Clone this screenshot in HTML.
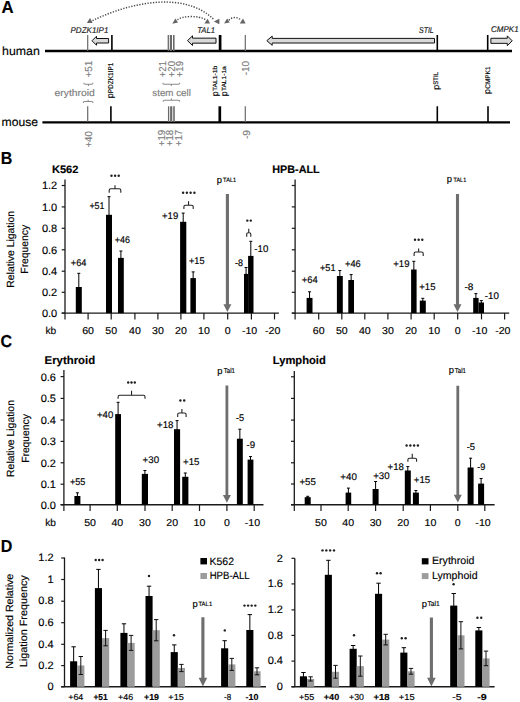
<!DOCTYPE html>
<html><head><meta charset="utf-8"><style>
html,body{margin:0;padding:0;background:#fff;}
body{width:520px;height:702px;overflow:hidden;}
svg{display:block;font-family:"Liberation Sans",sans-serif;text-rendering:geometricPrecision;}
</style></head><body>
<svg width="520" height="702" viewBox="0 0 520 702">
<rect width="520" height="702" fill="#fff"/>
<text transform="translate(1.6,13.4) scale(0.970,1)" font-size="17.3" font-weight="bold" stroke="#000" stroke-width="0.15">A</text>
<text transform="translate(2.1,54.7) scale(1.036,1)" font-size="11.9" stroke="#000" stroke-width="0.15">human</text>
<text transform="translate(1.6,125.9) scale(1.022,1)" font-size="11.9" stroke="#000" stroke-width="0.15">mouse</text>
<line x1="45" y1="51.05" x2="512" y2="51.05" stroke="#000" stroke-width="2.5"/>
<line x1="42.4" y1="122.45" x2="510" y2="122.45" stroke="#000" stroke-width="2.2"/>
<line x1="87.7" y1="35" x2="87.7" y2="51" stroke="#6a6a6a" stroke-width="1.2"/>
<line x1="111.9" y1="35" x2="111.9" y2="51" stroke="#000" stroke-width="1.6"/>
<line x1="168.3" y1="35" x2="168.3" y2="51" stroke="#6a6a6a" stroke-width="1.3"/>
<line x1="170.9" y1="35" x2="170.9" y2="51" stroke="#6a6a6a" stroke-width="2.2"/>
<line x1="173.8" y1="35" x2="173.8" y2="51" stroke="#6a6a6a" stroke-width="1.6"/>
<line x1="220.1" y1="35" x2="220.1" y2="51" stroke="#000" stroke-width="2.7"/>
<line x1="245.3" y1="35" x2="245.3" y2="51" stroke="#6a6a6a" stroke-width="1.2"/>
<line x1="437.3" y1="35" x2="437.3" y2="51" stroke="#000" stroke-width="1.6"/>
<line x1="487.7" y1="35" x2="487.7" y2="51" stroke="#000" stroke-width="1.6"/>
<line x1="87.7" y1="106.3" x2="87.7" y2="122" stroke="#6a6a6a" stroke-width="1.2"/>
<line x1="110.9" y1="106.3" x2="110.9" y2="122" stroke="#000" stroke-width="1.6"/>
<line x1="168.6" y1="106.3" x2="168.6" y2="122" stroke="#6a6a6a" stroke-width="1.3"/>
<line x1="171.2" y1="106.3" x2="171.2" y2="122" stroke="#6a6a6a" stroke-width="2.2"/>
<line x1="174" y1="106.3" x2="174" y2="122" stroke="#6a6a6a" stroke-width="1.6"/>
<line x1="219.8" y1="106.3" x2="219.8" y2="122" stroke="#000" stroke-width="2.7"/>
<line x1="245.3" y1="106.3" x2="245.3" y2="122" stroke="#6a6a6a" stroke-width="1.2"/>
<line x1="437.3" y1="106.3" x2="437.3" y2="122" stroke="#000" stroke-width="1.6"/>
<line x1="488" y1="106.3" x2="488" y2="122" stroke="#000" stroke-width="1.6"/>
<path d="M92 40.75 L96.5 36.25 L96.5 38.5 L108.6 38.5 L108.6 43 L96.5 43 L96.5 45.25 Z" fill="#d9d9d9" stroke="#111" stroke-width="1"/>
<path d="M187.5 40.65 L192.5 35.8 L192.5 38.15 L216 38.15 L216 43.15 L192.5 43.15 L192.5 45.5 Z" fill="#d9d9d9" stroke="#111" stroke-width="1"/>
<path d="M266.8 40.7 L272.2 36.1 L272.2 38.4 L434.5 38.4 L434.5 43 L272.2 43 L272.2 45.3 Z" fill="#d9d9d9" stroke="#111" stroke-width="1"/>
<path d="M512.2 40.8 L507.3 35.9 L507.3 38.25 L490.9 38.25 L490.9 43.35 L507.3 43.35 L507.3 45.7 Z" fill="#d9d9d9" stroke="#111" stroke-width="1"/>
<text transform="translate(70.5,32.5) scale(0.958,1)" font-size="8.4" font-style="italic" fill="#222" stroke="#222" stroke-width="0.16">PDZK1IP1</text>
<text transform="translate(197.2,32.5) scale(0.915,1)" font-size="8.4" font-style="italic" fill="#222" stroke="#222" stroke-width="0.16">TAL1</text>
<text transform="translate(419,32.8) scale(0.834,1)" font-size="8.4" font-style="italic" fill="#222" stroke="#222" stroke-width="0.18">STIL</text>
<text transform="translate(491,32.3) scale(0.957,1)" font-size="8.4" font-style="italic" fill="#222" stroke="#222" stroke-width="0.16">CMPK1</text>
<path d="M92.5 20.6 C132.5 1.3, 185.3 -8.6, 214 19.6" stroke="#4a4a4a" stroke-width="1.45" fill="none" stroke-dasharray="1.3 1.45"/>
<path d="M177.5 19.8 C181 16, 199 15, 205.5 19.8" stroke="#4a4a4a" stroke-width="1.45" fill="none" stroke-dasharray="1.3 1.45"/>
<path d="M229 20.4 C231 16.8, 238 16.5, 240.8 20" stroke="#4a4a4a" stroke-width="1.45" fill="none" stroke-dasharray="1.3 1.45"/>
<path d="M86.9 23 L92.7 23 L90 18.1 Z" fill="#646464"/>
<path d="M213.9 21.5 L219.4 18.7 L219.4 24.3 Z" fill="#646464"/>
<path d="M172.3 23.8 L178 22.6 L175.4 18.4 Z" fill="#646464"/>
<path d="M204.4 23.6 L210 23.6 L207.6 18.7 Z" fill="#646464"/>
<path d="M224.1 23.6 L229.6 22.4 L227.1 18.4 Z" fill="#646464"/>
<path d="M239.8 23.5 L245.6 23.5 L243 18.6 Z" fill="#646464"/>
<text transform="translate(91.5,77.6) rotate(-90) scale(0.977,1)" font-size="10.2" fill="#808080" stroke="#808080" stroke-width="0.15">+51</text>
<text transform="translate(166,77.2) rotate(-90) scale(0.936,1)" font-size="10.2" fill="#808080" stroke="#808080" stroke-width="0.16">+21</text>
<text transform="translate(174.5,77.2) rotate(-90) scale(0.936,1)" font-size="10.2" fill="#808080" stroke="#808080" stroke-width="0.16">+20</text>
<text transform="translate(183,77.2) rotate(-90) scale(0.936,1)" font-size="10.2" fill="#808080" stroke="#808080" stroke-width="0.16">+19</text>
<text transform="translate(248.7,75.3) rotate(-90) scale(0.977,1)" font-size="10.2" fill="#808080" stroke="#808080" stroke-width="0.15">-10</text>
<text transform="translate(92,147.6) rotate(-90) scale(0.954,1)" font-size="10.2" fill="#808080" stroke="#808080" stroke-width="0.16">+40</text>
<text transform="translate(164.5,146.3) rotate(-90) scale(0.954,1)" font-size="10.2" fill="#808080" stroke="#808080" stroke-width="0.16">+19</text>
<text transform="translate(173.3,146.3) rotate(-90) scale(0.954,1)" font-size="10.2" fill="#808080" stroke="#808080" stroke-width="0.16">+18</text>
<text transform="translate(182.1,146.3) rotate(-90) scale(0.954,1)" font-size="10.2" fill="#808080" stroke="#808080" stroke-width="0.16">+17</text>
<text transform="translate(249.6,139) rotate(-90) scale(0.992,1)" font-size="10.2" fill="#808080" stroke="#808080" stroke-width="0.15">-9</text>
<text transform="translate(54.5,95.5) scale(1.093,1)" font-size="9.5" fill="#808080" stroke="#808080" stroke-width="0.15">erythroid</text>
<text transform="translate(152.3,95.6) scale(1.030,1)" font-size="9.5" fill="#808080" stroke="#808080" stroke-width="0.15">stem cell</text>
<path d="M83.8 82.7 Q83.8 84.2 85.1 84.2 L91.7 84.2 Q93 84.2 93 82.7 M88.4 84.2 L88.4 86" fill="none" stroke="#8a8a8a" stroke-width="1.05"/>
<path d="M83.3 103 Q83.3 101.5 84.6 101.5 L91.7 101.5 Q93 101.5 93 103 M88.15 101.5 L88.15 99.7" fill="none" stroke="#8a8a8a" stroke-width="1.05"/>
<path d="M162.8 82.7 Q162.8 84.2 164.1 84.2 L178.5 84.2 Q179.8 84.2 179.8 82.7 M171.3 84.2 L171.3 86" fill="none" stroke="#8a8a8a" stroke-width="1.05"/>
<path d="M163.1 101.8 Q163.1 100.3 164.4 100.3 L178.5 100.3 Q179.8 100.3 179.8 101.8 M171.45 100.3 L171.45 98.5" fill="none" stroke="#8a8a8a" stroke-width="1.05"/>
<text transform="translate(112.7,98.3) rotate(-90)" font-size="8.8" stroke="#000" stroke-width="0.15">p</text>
<text transform="translate(112.5,93.21) rotate(-90) scale(0.922,1)" font-size="7" stroke="#000" stroke-width="0.16">PDZK1IP1</text>
<text transform="translate(218,96.2) rotate(-90)" font-size="8.8" stroke="#000" stroke-width="0.15">p</text>
<text transform="translate(217.2,91.11) rotate(-90) scale(1.121,1)" font-size="6" stroke="#000" stroke-width="0.15">TAL1-1b</text>
<text transform="translate(226.6,96.2) rotate(-90)" font-size="8.8" stroke="#000" stroke-width="0.15">p</text>
<text transform="translate(225.8,91.11) rotate(-90) scale(1.104,1)" font-size="6" stroke="#000" stroke-width="0.15">TAL1-1a</text>
<text transform="translate(438.7,89.8) rotate(-90)" font-size="8.8" stroke="#000" stroke-width="0.15">p</text>
<text transform="translate(438.1,84.71) rotate(-90) scale(0.912,1)" font-size="6.6" stroke="#000" stroke-width="0.16">STIL</text>
<text transform="translate(490,93.9) rotate(-90)" font-size="8.8" stroke="#000" stroke-width="0.15">p</text>
<text transform="translate(489.5,88.81) rotate(-90) scale(0.971,1)" font-size="6.7" stroke="#000" stroke-width="0.15">CMPK1</text>
<text transform="translate(0.7,164) scale(0.930,1)" font-size="17.3" font-weight="bold" stroke="#000" stroke-width="0.16">B</text>
<text transform="translate(51.9,173.1) scale(1.030,1)" font-size="10.8" font-weight="bold" stroke="#000" stroke-width="0.15">K562</text>
<line x1="65" y1="179.5" x2="65" y2="313.1" stroke="#1a1a1a" stroke-width="1.3"/>
<line x1="61.7" y1="185.5" x2="65" y2="185.5" stroke="#1a1a1a" stroke-width="1.2"/>
<text transform="translate(57.2,189.4) scale(1.020,1)" font-size="10.8" text-anchor="end" stroke="#000" stroke-width="0.15">1.2</text>
<line x1="61.7" y1="206.9" x2="65" y2="206.9" stroke="#1a1a1a" stroke-width="1.2"/>
<text transform="translate(57.2,210.8) scale(1.020,1)" font-size="10.8" text-anchor="end" stroke="#000" stroke-width="0.15">1.0</text>
<line x1="61.7" y1="228.3" x2="65" y2="228.3" stroke="#1a1a1a" stroke-width="1.2"/>
<text transform="translate(57.2,232.2) scale(1.020,1)" font-size="10.8" text-anchor="end" stroke="#000" stroke-width="0.15">0.8</text>
<line x1="61.7" y1="249.8" x2="65" y2="249.8" stroke="#1a1a1a" stroke-width="1.2"/>
<text transform="translate(57.2,253.7) scale(1.020,1)" font-size="10.8" text-anchor="end" stroke="#000" stroke-width="0.15">0.6</text>
<line x1="61.7" y1="271.2" x2="65" y2="271.2" stroke="#1a1a1a" stroke-width="1.2"/>
<text transform="translate(57.2,275.1) scale(1.020,1)" font-size="10.8" text-anchor="end" stroke="#000" stroke-width="0.15">0.4</text>
<line x1="61.7" y1="292.3" x2="65" y2="292.3" stroke="#1a1a1a" stroke-width="1.2"/>
<text transform="translate(57.2,296.2) scale(1.020,1)" font-size="10.8" text-anchor="end" stroke="#000" stroke-width="0.15">0.2</text>
<line x1="61.7" y1="313.1" x2="65" y2="313.1" stroke="#1a1a1a" stroke-width="1.2"/>
<text transform="translate(57.2,317) scale(1.020,1)" font-size="10.8" text-anchor="end" stroke="#000" stroke-width="0.15">0.0</text>
<line x1="61.7" y1="313.1" x2="278.9" y2="313.1" stroke="#1a1a1a" stroke-width="1.4"/>
<line x1="65" y1="313.1" x2="65" y2="319.4" stroke="#1a1a1a" stroke-width="1.2"/>
<line x1="88.1" y1="313.1" x2="88.1" y2="319.4" stroke="#1a1a1a" stroke-width="1.2"/>
<line x1="111.2" y1="313.1" x2="111.2" y2="319.4" stroke="#1a1a1a" stroke-width="1.2"/>
<line x1="134.9" y1="313.1" x2="134.9" y2="319.4" stroke="#1a1a1a" stroke-width="1.2"/>
<line x1="157.9" y1="313.1" x2="157.9" y2="319.4" stroke="#1a1a1a" stroke-width="1.2"/>
<line x1="180.9" y1="313.1" x2="180.9" y2="319.4" stroke="#1a1a1a" stroke-width="1.2"/>
<line x1="203.9" y1="313.1" x2="203.9" y2="319.4" stroke="#1a1a1a" stroke-width="1.2"/>
<line x1="227.7" y1="313.1" x2="227.7" y2="319.4" stroke="#1a1a1a" stroke-width="1.2"/>
<line x1="251.4" y1="313.1" x2="251.4" y2="319.4" stroke="#1a1a1a" stroke-width="1.2"/>
<line x1="274.5" y1="313.1" x2="274.5" y2="319.4" stroke="#1a1a1a" stroke-width="1.2"/>
<text transform="translate(45.4,333.8)" font-size="10.2" stroke="#000" stroke-width="0.15">kb</text>
<text transform="translate(88.1,333.8) scale(1.060,1)" font-size="10" text-anchor="middle" stroke="#000" stroke-width="0.15">60</text>
<text transform="translate(111.2,333.8) scale(1.060,1)" font-size="10" text-anchor="middle" stroke="#000" stroke-width="0.15">50</text>
<text transform="translate(134.9,333.8) scale(1.060,1)" font-size="10" text-anchor="middle" stroke="#000" stroke-width="0.15">40</text>
<text transform="translate(157.9,333.8) scale(1.060,1)" font-size="10" text-anchor="middle" stroke="#000" stroke-width="0.15">30</text>
<text transform="translate(180.9,333.8) scale(1.060,1)" font-size="10" text-anchor="middle" stroke="#000" stroke-width="0.15">20</text>
<text transform="translate(203.9,333.8) scale(1.060,1)" font-size="10" text-anchor="middle" stroke="#000" stroke-width="0.15">10</text>
<text transform="translate(227.7,333.8) scale(1.060,1)" font-size="10" text-anchor="middle" stroke="#000" stroke-width="0.15">0</text>
<text transform="translate(249.6,333.8) scale(1.060,1)" font-size="10" text-anchor="middle" stroke="#000" stroke-width="0.15">-10</text>
<text transform="translate(272.7,333.8) scale(1.060,1)" font-size="10" text-anchor="middle" stroke="#000" stroke-width="0.15">-20</text>
<text transform="translate(14.3,249.3) rotate(-90)" font-size="10.4" text-anchor="middle" stroke="#000" stroke-width="0.15">Relative Ligation</text>
<text transform="translate(27.8,249.3) rotate(-90) scale(0.991,1)" font-size="10.4" text-anchor="middle" stroke="#000" stroke-width="0.15">Frequency</text>
<rect x="75.8" y="287" width="6" height="26.1" fill="#000"/>
<line x1="78.8" y1="273.3" x2="78.8" y2="300.7" stroke="#000" stroke-width="1"/>
<line x1="77.3" y1="273.3" x2="80.3" y2="273.3" stroke="#000" stroke-width="1"/>
<line x1="77.3" y1="300.7" x2="80.3" y2="300.7" stroke="#000" stroke-width="1"/>
<rect x="106" y="214.8" width="6" height="98.3" fill="#000"/>
<line x1="109" y1="196.7" x2="109" y2="232.9" stroke="#000" stroke-width="1"/>
<line x1="107.5" y1="196.7" x2="110.5" y2="196.7" stroke="#000" stroke-width="1"/>
<line x1="107.5" y1="232.9" x2="110.5" y2="232.9" stroke="#000" stroke-width="1"/>
<rect x="118" y="257.9" width="5.8" height="55.2" fill="#000"/>
<line x1="120.9" y1="251" x2="120.9" y2="264.8" stroke="#000" stroke-width="1"/>
<line x1="119.4" y1="251" x2="122.4" y2="251" stroke="#000" stroke-width="1"/>
<line x1="119.4" y1="264.8" x2="122.4" y2="264.8" stroke="#000" stroke-width="1"/>
<rect x="180.1" y="221.8" width="6.2" height="91.3" fill="#000"/>
<line x1="183.2" y1="213.1" x2="183.2" y2="230.5" stroke="#000" stroke-width="1"/>
<line x1="181.7" y1="213.1" x2="184.7" y2="213.1" stroke="#000" stroke-width="1"/>
<line x1="181.7" y1="230.5" x2="184.7" y2="230.5" stroke="#000" stroke-width="1"/>
<rect x="190.4" y="278.1" width="5.5" height="35" fill="#000"/>
<line x1="193.15" y1="271.9" x2="193.15" y2="284.3" stroke="#000" stroke-width="1"/>
<line x1="191.65" y1="271.9" x2="194.65" y2="271.9" stroke="#000" stroke-width="1"/>
<line x1="191.65" y1="284.3" x2="194.65" y2="284.3" stroke="#000" stroke-width="1"/>
<rect x="244" y="273.9" width="4.1" height="39.2" fill="#000"/>
<line x1="246.05" y1="267.5" x2="246.05" y2="280.3" stroke="#000" stroke-width="1"/>
<line x1="244.55" y1="267.5" x2="247.55" y2="267.5" stroke="#000" stroke-width="1"/>
<line x1="244.55" y1="280.3" x2="247.55" y2="280.3" stroke="#000" stroke-width="1"/>
<rect x="248.1" y="255.9" width="5.4" height="57.2" fill="#000"/>
<line x1="250.8" y1="241.3" x2="250.8" y2="270.5" stroke="#000" stroke-width="1"/>
<line x1="249.3" y1="241.3" x2="252.3" y2="241.3" stroke="#000" stroke-width="1"/>
<line x1="249.3" y1="270.5" x2="252.3" y2="270.5" stroke="#000" stroke-width="1"/>
<text transform="translate(70.8,265.8) scale(0.954,1)" font-size="9.7" stroke="#000" stroke-width="0.16">+64</text>
<text transform="translate(89.4,208.8) scale(0.912,1)" font-size="9.7" stroke="#000" stroke-width="0.16">+51</text>
<text transform="translate(114.8,242.9) scale(0.924,1)" font-size="9.7" stroke="#000" stroke-width="0.16">+46</text>
<text transform="translate(162,219) scale(0.985,1)" font-size="9.7" stroke="#000" stroke-width="0.15">+19</text>
<text transform="translate(189,264) scale(0.942,1)" font-size="9.7" stroke="#000" stroke-width="0.16">+15</text>
<text transform="translate(235,265.5) scale(0.928,1)" font-size="9.7" stroke="#000" stroke-width="0.16">-8</text>
<text transform="translate(254.3,252.3)" font-size="9.7" stroke="#000" stroke-width="0.15">-10</text>
<circle cx="111.5" cy="175.8" r="1.2" fill="#1e1e1e"/>
<circle cx="115.1" cy="175.8" r="1.2" fill="#1e1e1e"/>
<circle cx="118.7" cy="175.8" r="1.2" fill="#1e1e1e"/>
<path d="M109.2 192.8 L109.2 190.3 Q109.2 188.8 110.7 188.8 L119.3 188.8 Q120.8 188.8 120.8 190.3 L120.8 192.8 M115 188.8 L115 185.3" fill="none" stroke="#222" stroke-width="1.1"/>
<circle cx="183.1" cy="192.8" r="1.2" fill="#1e1e1e"/>
<circle cx="186.87" cy="192.8" r="1.2" fill="#1e1e1e"/>
<circle cx="190.63" cy="192.8" r="1.2" fill="#1e1e1e"/>
<circle cx="194.4" cy="192.8" r="1.2" fill="#1e1e1e"/>
<path d="M183.9 209 L183.9 206.7 Q183.9 205.2 185.4 205.2 L191.7 205.2 Q193.2 205.2 193.2 206.7 L193.2 209 M188.55 205.2 L188.55 201.2" fill="none" stroke="#222" stroke-width="1.1"/>
<circle cx="247.3" cy="220.6" r="1.2" fill="#1e1e1e"/>
<circle cx="250.8" cy="220.6" r="1.2" fill="#1e1e1e"/>
<path d="M246.7 236.7 L246.7 234.2 Q246.7 232.7 248.2 232.7 L249.3 232.7 Q250.8 232.7 250.8 234.2 L250.8 236.7 M248.75 232.7 L248.75 228.8" fill="none" stroke="#222" stroke-width="1.1"/>
<text transform="translate(216.7,182.7)" font-size="9.4" stroke="#000" stroke-width="0.15">p</text>
<text transform="translate(223.1,182.2) scale(0.906,1)" font-size="6.24" stroke="#000" stroke-width="0.17">TAL1</text>
<path d="M225.85 194.1 L228.95 194.1 L228.95 304.3 L231.4 304.3 L227.4 312 L223.4 304.3 L225.85 304.3 Z" fill="#6e6e6e"/>
<text transform="translate(272.3,173.4)" font-size="10.8" font-weight="bold" stroke="#000" stroke-width="0.15">HPB-ALL</text>
<line x1="295.1" y1="179.5" x2="295.1" y2="313.1" stroke="#1a1a1a" stroke-width="1.3"/>
<line x1="291.8" y1="185.5" x2="295.1" y2="185.5" stroke="#1a1a1a" stroke-width="1.2"/>
<line x1="291.8" y1="206.9" x2="295.1" y2="206.9" stroke="#1a1a1a" stroke-width="1.2"/>
<line x1="291.8" y1="228.3" x2="295.1" y2="228.3" stroke="#1a1a1a" stroke-width="1.2"/>
<line x1="291.8" y1="249.8" x2="295.1" y2="249.8" stroke="#1a1a1a" stroke-width="1.2"/>
<line x1="291.8" y1="271.2" x2="295.1" y2="271.2" stroke="#1a1a1a" stroke-width="1.2"/>
<line x1="291.8" y1="292.3" x2="295.1" y2="292.3" stroke="#1a1a1a" stroke-width="1.2"/>
<line x1="291.8" y1="313.1" x2="295.1" y2="313.1" stroke="#1a1a1a" stroke-width="1.2"/>
<line x1="291.8" y1="313.1" x2="509.2" y2="313.1" stroke="#1a1a1a" stroke-width="1.4"/>
<line x1="295.1" y1="313.1" x2="295.1" y2="319.4" stroke="#1a1a1a" stroke-width="1.2"/>
<line x1="318.7" y1="313.1" x2="318.7" y2="319.4" stroke="#1a1a1a" stroke-width="1.2"/>
<line x1="341.8" y1="313.1" x2="341.8" y2="319.4" stroke="#1a1a1a" stroke-width="1.2"/>
<line x1="364.8" y1="313.1" x2="364.8" y2="319.4" stroke="#1a1a1a" stroke-width="1.2"/>
<line x1="387.9" y1="313.1" x2="387.9" y2="319.4" stroke="#1a1a1a" stroke-width="1.2"/>
<line x1="411.1" y1="313.1" x2="411.1" y2="319.4" stroke="#1a1a1a" stroke-width="1.2"/>
<line x1="434.2" y1="313.1" x2="434.2" y2="319.4" stroke="#1a1a1a" stroke-width="1.2"/>
<line x1="457.7" y1="313.1" x2="457.7" y2="319.4" stroke="#1a1a1a" stroke-width="1.2"/>
<line x1="481.5" y1="313.1" x2="481.5" y2="319.4" stroke="#1a1a1a" stroke-width="1.2"/>
<line x1="504.6" y1="313.1" x2="504.6" y2="319.4" stroke="#1a1a1a" stroke-width="1.2"/>
<text transform="translate(318.7,333.8) scale(1.060,1)" font-size="10" text-anchor="middle" stroke="#000" stroke-width="0.15">60</text>
<text transform="translate(341.8,333.8) scale(1.060,1)" font-size="10" text-anchor="middle" stroke="#000" stroke-width="0.15">50</text>
<text transform="translate(364.8,333.8) scale(1.060,1)" font-size="10" text-anchor="middle" stroke="#000" stroke-width="0.15">40</text>
<text transform="translate(387.9,333.8) scale(1.060,1)" font-size="10" text-anchor="middle" stroke="#000" stroke-width="0.15">30</text>
<text transform="translate(411.1,333.8) scale(1.060,1)" font-size="10" text-anchor="middle" stroke="#000" stroke-width="0.15">20</text>
<text transform="translate(434.2,333.8) scale(1.060,1)" font-size="10" text-anchor="middle" stroke="#000" stroke-width="0.15">10</text>
<text transform="translate(457.7,333.8) scale(1.060,1)" font-size="10" text-anchor="middle" stroke="#000" stroke-width="0.15">0</text>
<text transform="translate(479.7,333.8) scale(1.060,1)" font-size="10" text-anchor="middle" stroke="#000" stroke-width="0.15">-10</text>
<text transform="translate(502.8,333.8) scale(1.060,1)" font-size="10" text-anchor="middle" stroke="#000" stroke-width="0.15">-20</text>
<rect x="306.6" y="297.9" width="5.9" height="15.2" fill="#000"/>
<line x1="309.55" y1="291.8" x2="309.55" y2="304" stroke="#000" stroke-width="1"/>
<line x1="308.05" y1="291.8" x2="311.05" y2="291.8" stroke="#000" stroke-width="1"/>
<line x1="308.05" y1="304" x2="311.05" y2="304" stroke="#000" stroke-width="1"/>
<rect x="336.9" y="276" width="5.9" height="37.1" fill="#000"/>
<line x1="339.85" y1="270.5" x2="339.85" y2="281.5" stroke="#000" stroke-width="1"/>
<line x1="338.35" y1="270.5" x2="341.35" y2="270.5" stroke="#000" stroke-width="1"/>
<line x1="338.35" y1="281.5" x2="341.35" y2="281.5" stroke="#000" stroke-width="1"/>
<rect x="348.3" y="280" width="5.7" height="33.1" fill="#000"/>
<line x1="351.15" y1="274.6" x2="351.15" y2="285.4" stroke="#000" stroke-width="1"/>
<line x1="349.65" y1="274.6" x2="352.65" y2="274.6" stroke="#000" stroke-width="1"/>
<line x1="349.65" y1="285.4" x2="352.65" y2="285.4" stroke="#000" stroke-width="1"/>
<rect x="411.1" y="269.5" width="5.5" height="43.6" fill="#000"/>
<line x1="413.85" y1="261.3" x2="413.85" y2="277.7" stroke="#000" stroke-width="1"/>
<line x1="412.35" y1="261.3" x2="415.35" y2="261.3" stroke="#000" stroke-width="1"/>
<line x1="412.35" y1="277.7" x2="415.35" y2="277.7" stroke="#000" stroke-width="1"/>
<rect x="419.8" y="300.6" width="6" height="12.5" fill="#000"/>
<line x1="422.8" y1="298.3" x2="422.8" y2="302.9" stroke="#000" stroke-width="1"/>
<line x1="421.3" y1="298.3" x2="424.3" y2="298.3" stroke="#000" stroke-width="1"/>
<line x1="421.3" y1="302.9" x2="424.3" y2="302.9" stroke="#000" stroke-width="1"/>
<rect x="473.2" y="297.9" width="5.4" height="15.2" fill="#000"/>
<line x1="475.9" y1="293.6" x2="475.9" y2="302.2" stroke="#000" stroke-width="1"/>
<line x1="474.4" y1="293.6" x2="477.4" y2="293.6" stroke="#000" stroke-width="1"/>
<line x1="474.4" y1="302.2" x2="477.4" y2="302.2" stroke="#000" stroke-width="1"/>
<rect x="478.6" y="302.5" width="5.4" height="10.6" fill="#000"/>
<line x1="481.3" y1="300.6" x2="481.3" y2="304.4" stroke="#000" stroke-width="1"/>
<line x1="479.8" y1="300.6" x2="482.8" y2="300.6" stroke="#000" stroke-width="1"/>
<line x1="479.8" y1="304.4" x2="482.8" y2="304.4" stroke="#000" stroke-width="1"/>
<text transform="translate(301.8,283.4) scale(0.972,1)" font-size="9.7" stroke="#000" stroke-width="0.15">+64</text>
<text transform="translate(320,270.5) scale(0.942,1)" font-size="9.7" stroke="#000" stroke-width="0.16">+51</text>
<text transform="translate(345,266.5) scale(0.954,1)" font-size="9.7" stroke="#000" stroke-width="0.16">+46</text>
<text transform="translate(393.3,267.3) scale(0.985,1)" font-size="9.7" stroke="#000" stroke-width="0.15">+19</text>
<text transform="translate(419.3,290.3) scale(0.985,1)" font-size="9.7" stroke="#000" stroke-width="0.15">+15</text>
<text transform="translate(464.5,289.8) scale(1.043,1)" font-size="9.7" stroke="#000" stroke-width="0.15">-8</text>
<text transform="translate(484.8,299.3) scale(1.006,1)" font-size="9.7" stroke="#000" stroke-width="0.15">-10</text>
<circle cx="415" cy="239.8" r="1.2" fill="#1e1e1e"/>
<circle cx="418.65" cy="239.8" r="1.2" fill="#1e1e1e"/>
<circle cx="422.3" cy="239.8" r="1.2" fill="#1e1e1e"/>
<path d="M414.1 255.9 L414.1 253.5 Q414.1 252 415.6 252 L421.7 252 Q423.2 252 423.2 253.5 L423.2 255.9 M418.65 252 L418.65 248.4" fill="none" stroke="#222" stroke-width="1.1"/>
<text transform="translate(446.7,182.3)" font-size="9.4" stroke="#000" stroke-width="0.15">p</text>
<text transform="translate(453.5,181.8) scale(0.879,1)" font-size="6.24" stroke="#000" stroke-width="0.17">TAL1</text>
<path d="M455.95 194.1 L459.05 194.1 L459.05 304.3 L461.5 304.3 L457.5 312 L453.5 304.3 L455.95 304.3 Z" fill="#6e6e6e"/>
<text transform="translate(0.4,347.4) scale(0.930,1)" font-size="17.3" font-weight="bold" stroke="#000" stroke-width="0.16">C</text>
<text transform="translate(44.6,364.3) scale(1.007,1)" font-size="11.3" font-weight="bold" stroke="#000" stroke-width="0.15">Erythroid</text>
<line x1="63.9" y1="370.1" x2="63.9" y2="504.7" stroke="#1a1a1a" stroke-width="1.3"/>
<line x1="60.6" y1="376.6" x2="63.9" y2="376.6" stroke="#1a1a1a" stroke-width="1.2"/>
<text transform="translate(56,380.5) scale(1.020,1)" font-size="10.8" text-anchor="end" stroke="#000" stroke-width="0.15">0.6</text>
<line x1="60.6" y1="398.4" x2="63.9" y2="398.4" stroke="#1a1a1a" stroke-width="1.2"/>
<text transform="translate(56,402.3) scale(1.020,1)" font-size="10.8" text-anchor="end" stroke="#000" stroke-width="0.15">0.5</text>
<line x1="60.6" y1="420" x2="63.9" y2="420" stroke="#1a1a1a" stroke-width="1.2"/>
<text transform="translate(56,423.9) scale(1.020,1)" font-size="10.8" text-anchor="end" stroke="#000" stroke-width="0.15">0.4</text>
<line x1="60.6" y1="441.4" x2="63.9" y2="441.4" stroke="#1a1a1a" stroke-width="1.2"/>
<text transform="translate(56,445.3) scale(1.020,1)" font-size="10.8" text-anchor="end" stroke="#000" stroke-width="0.15">0.3</text>
<line x1="60.6" y1="462.8" x2="63.9" y2="462.8" stroke="#1a1a1a" stroke-width="1.2"/>
<text transform="translate(56,466.7) scale(1.020,1)" font-size="10.8" text-anchor="end" stroke="#000" stroke-width="0.15">0.2</text>
<line x1="60.6" y1="484.2" x2="63.9" y2="484.2" stroke="#1a1a1a" stroke-width="1.2"/>
<text transform="translate(56,488.1) scale(1.020,1)" font-size="10.8" text-anchor="end" stroke="#000" stroke-width="0.15">0.1</text>
<line x1="60.6" y1="504.7" x2="63.9" y2="504.7" stroke="#1a1a1a" stroke-width="1.2"/>
<text transform="translate(56,508.6) scale(1.020,1)" font-size="10.8" text-anchor="end" stroke="#000" stroke-width="0.15">0.0</text>
<line x1="60.6" y1="504.7" x2="263.5" y2="504.7" stroke="#1a1a1a" stroke-width="1.4"/>
<line x1="63.9" y1="504.7" x2="63.9" y2="511" stroke="#1a1a1a" stroke-width="1.2"/>
<line x1="90.1" y1="504.7" x2="90.1" y2="511" stroke="#1a1a1a" stroke-width="1.2"/>
<line x1="117.3" y1="504.7" x2="117.3" y2="511" stroke="#1a1a1a" stroke-width="1.2"/>
<line x1="145" y1="504.7" x2="145" y2="511" stroke="#1a1a1a" stroke-width="1.2"/>
<line x1="172.2" y1="504.7" x2="172.2" y2="511" stroke="#1a1a1a" stroke-width="1.2"/>
<line x1="199.5" y1="504.7" x2="199.5" y2="511" stroke="#1a1a1a" stroke-width="1.2"/>
<line x1="226.9" y1="504.7" x2="226.9" y2="511" stroke="#1a1a1a" stroke-width="1.2"/>
<line x1="254.2" y1="504.7" x2="254.2" y2="511" stroke="#1a1a1a" stroke-width="1.2"/>
<text transform="translate(45.2,525.5)" font-size="10.2" stroke="#000" stroke-width="0.15">kb</text>
<text transform="translate(90.1,525.5) scale(1.060,1)" font-size="10" text-anchor="middle" stroke="#000" stroke-width="0.15">50</text>
<text transform="translate(117.3,525.5) scale(1.060,1)" font-size="10" text-anchor="middle" stroke="#000" stroke-width="0.15">40</text>
<text transform="translate(145,525.5) scale(1.060,1)" font-size="10" text-anchor="middle" stroke="#000" stroke-width="0.15">30</text>
<text transform="translate(172.2,525.5) scale(1.060,1)" font-size="10" text-anchor="middle" stroke="#000" stroke-width="0.15">20</text>
<text transform="translate(199.5,525.5) scale(1.060,1)" font-size="10" text-anchor="middle" stroke="#000" stroke-width="0.15">10</text>
<text transform="translate(226.9,525.5) scale(1.060,1)" font-size="10" text-anchor="middle" stroke="#000" stroke-width="0.15">0</text>
<text transform="translate(252.4,525.5) scale(1.060,1)" font-size="10" text-anchor="middle" stroke="#000" stroke-width="0.15">-10</text>
<text transform="translate(14.3,438.5) rotate(-90)" font-size="10.4" text-anchor="middle" stroke="#000" stroke-width="0.15">Relative Ligation</text>
<text transform="translate(28.6,438.5) rotate(-90) scale(0.991,1)" font-size="10.4" text-anchor="middle" stroke="#000" stroke-width="0.15">Frequency</text>
<rect x="74.4" y="496" width="6" height="8.7" fill="#000"/>
<line x1="77.4" y1="492.8" x2="77.4" y2="499.2" stroke="#000" stroke-width="1"/>
<line x1="75.9" y1="492.8" x2="78.9" y2="492.8" stroke="#000" stroke-width="1"/>
<line x1="75.9" y1="499.2" x2="78.9" y2="499.2" stroke="#000" stroke-width="1"/>
<rect x="115.2" y="414.1" width="5.8" height="90.6" fill="#000"/>
<line x1="118.1" y1="402.3" x2="118.1" y2="425.9" stroke="#000" stroke-width="1"/>
<line x1="116.6" y1="402.3" x2="119.6" y2="402.3" stroke="#000" stroke-width="1"/>
<line x1="116.6" y1="425.9" x2="119.6" y2="425.9" stroke="#000" stroke-width="1"/>
<rect x="141.8" y="473.9" width="6.2" height="30.8" fill="#000"/>
<line x1="144.9" y1="470.5" x2="144.9" y2="477.3" stroke="#000" stroke-width="1"/>
<line x1="143.4" y1="470.5" x2="146.4" y2="470.5" stroke="#000" stroke-width="1"/>
<line x1="143.4" y1="477.3" x2="146.4" y2="477.3" stroke="#000" stroke-width="1"/>
<rect x="174" y="429.2" width="6.1" height="75.5" fill="#000"/>
<line x1="177.05" y1="420.6" x2="177.05" y2="437.8" stroke="#000" stroke-width="1"/>
<line x1="175.55" y1="420.6" x2="178.55" y2="420.6" stroke="#000" stroke-width="1"/>
<line x1="175.55" y1="437.8" x2="178.55" y2="437.8" stroke="#000" stroke-width="1"/>
<rect x="182.2" y="476.8" width="6.2" height="27.9" fill="#000"/>
<line x1="185.3" y1="473" x2="185.3" y2="480.6" stroke="#000" stroke-width="1"/>
<line x1="183.8" y1="473" x2="186.8" y2="473" stroke="#000" stroke-width="1"/>
<line x1="183.8" y1="480.6" x2="186.8" y2="480.6" stroke="#000" stroke-width="1"/>
<rect x="236.9" y="438.7" width="5.9" height="66" fill="#000"/>
<line x1="239.85" y1="429.2" x2="239.85" y2="448.2" stroke="#000" stroke-width="1"/>
<line x1="238.35" y1="429.2" x2="241.35" y2="429.2" stroke="#000" stroke-width="1"/>
<line x1="238.35" y1="448.2" x2="241.35" y2="448.2" stroke="#000" stroke-width="1"/>
<rect x="247.6" y="459.6" width="5.8" height="45.1" fill="#000"/>
<line x1="250.5" y1="456.6" x2="250.5" y2="462.6" stroke="#000" stroke-width="1"/>
<line x1="249" y1="456.6" x2="252" y2="456.6" stroke="#000" stroke-width="1"/>
<line x1="249" y1="462.6" x2="252" y2="462.6" stroke="#000" stroke-width="1"/>
<text transform="translate(69.9,485.2) scale(0.936,1)" font-size="9.7" stroke="#000" stroke-width="0.16">+55</text>
<text transform="translate(97,418) scale(0.985,1)" font-size="9.7" stroke="#000" stroke-width="0.15">+40</text>
<text transform="translate(142.6,463.3)" font-size="9.7" stroke="#000" stroke-width="0.15">+30</text>
<text transform="translate(157,427.8)" font-size="9.7" stroke="#000" stroke-width="0.15">+18</text>
<text transform="translate(183,465.3)" font-size="9.7" stroke="#000" stroke-width="0.15">+15</text>
<text transform="translate(236,421.4) scale(0.939,1)" font-size="9.7" stroke="#000" stroke-width="0.16">-5</text>
<text transform="translate(246.4,448)" font-size="9.7" stroke="#000" stroke-width="0.15">-9</text>
<circle cx="128.2" cy="382.5" r="1.2" fill="#1e1e1e"/>
<circle cx="131.5" cy="382.5" r="1.2" fill="#1e1e1e"/>
<circle cx="134.8" cy="382.5" r="1.2" fill="#1e1e1e"/>
<path d="M118.1 398.8 L118.1 396.7 Q118.1 395.2 119.6 395.2 L143.5 395.2 Q145 395.2 145 396.7 L145 398.8 M131.55 395.2 L131.55 390.8" fill="none" stroke="#222" stroke-width="1.1"/>
<circle cx="180.4" cy="400.5" r="1.2" fill="#1e1e1e"/>
<circle cx="184.2" cy="400.5" r="1.2" fill="#1e1e1e"/>
<path d="M177.7 417 L177.7 414.5 Q177.7 413 179.2 413 L184.6 413 Q186.1 413 186.1 414.5 L186.1 417 M181.9 413 L181.9 409.1" fill="none" stroke="#222" stroke-width="1.1"/>
<text transform="translate(217.3,373.7)" font-size="9.4" stroke="#000" stroke-width="0.15">p</text>
<text transform="translate(223.8,373.3) scale(0.855,1)" font-size="7.08" stroke="#000" stroke-width="0.18">Tal1</text>
<path d="M225.5 385.4 L228.3 385.4 L228.3 495.1 L230.9 495.1 L226.9 502.8 L222.9 495.1 L225.5 495.1 Z" fill="#6e6e6e"/>
<text transform="translate(272.8,364.3) scale(0.989,1)" font-size="11.3" font-weight="bold" stroke="#000" stroke-width="0.15">Lymphoid</text>
<line x1="294.3" y1="370.9" x2="294.3" y2="504.7" stroke="#1a1a1a" stroke-width="1.3"/>
<line x1="291" y1="376.8" x2="294.3" y2="376.8" stroke="#1a1a1a" stroke-width="1.2"/>
<line x1="291" y1="398.4" x2="294.3" y2="398.4" stroke="#1a1a1a" stroke-width="1.2"/>
<line x1="291" y1="420.1" x2="294.3" y2="420.1" stroke="#1a1a1a" stroke-width="1.2"/>
<line x1="291" y1="441.3" x2="294.3" y2="441.3" stroke="#1a1a1a" stroke-width="1.2"/>
<line x1="291" y1="462.8" x2="294.3" y2="462.8" stroke="#1a1a1a" stroke-width="1.2"/>
<line x1="291" y1="484" x2="294.3" y2="484" stroke="#1a1a1a" stroke-width="1.2"/>
<line x1="291" y1="504.7" x2="294.3" y2="504.7" stroke="#1a1a1a" stroke-width="1.2"/>
<line x1="291" y1="504.7" x2="494.6" y2="504.7" stroke="#1a1a1a" stroke-width="1.4"/>
<line x1="294.3" y1="504.7" x2="294.3" y2="511" stroke="#1a1a1a" stroke-width="1.2"/>
<line x1="321" y1="504.7" x2="321" y2="511" stroke="#1a1a1a" stroke-width="1.2"/>
<line x1="348.2" y1="504.7" x2="348.2" y2="511" stroke="#1a1a1a" stroke-width="1.2"/>
<line x1="375.6" y1="504.7" x2="375.6" y2="511" stroke="#1a1a1a" stroke-width="1.2"/>
<line x1="403.2" y1="504.7" x2="403.2" y2="511" stroke="#1a1a1a" stroke-width="1.2"/>
<line x1="430.4" y1="504.7" x2="430.4" y2="511" stroke="#1a1a1a" stroke-width="1.2"/>
<line x1="457.8" y1="504.7" x2="457.8" y2="511" stroke="#1a1a1a" stroke-width="1.2"/>
<line x1="484.8" y1="504.7" x2="484.8" y2="511" stroke="#1a1a1a" stroke-width="1.2"/>
<text transform="translate(321,525.5) scale(1.060,1)" font-size="10" text-anchor="middle" stroke="#000" stroke-width="0.15">50</text>
<text transform="translate(348.2,525.5) scale(1.060,1)" font-size="10" text-anchor="middle" stroke="#000" stroke-width="0.15">40</text>
<text transform="translate(375.6,525.5) scale(1.060,1)" font-size="10" text-anchor="middle" stroke="#000" stroke-width="0.15">30</text>
<text transform="translate(403.2,525.5) scale(1.060,1)" font-size="10" text-anchor="middle" stroke="#000" stroke-width="0.15">20</text>
<text transform="translate(430.4,525.5) scale(1.060,1)" font-size="10" text-anchor="middle" stroke="#000" stroke-width="0.15">10</text>
<text transform="translate(457.8,525.5) scale(1.060,1)" font-size="10" text-anchor="middle" stroke="#000" stroke-width="0.15">0</text>
<text transform="translate(483,525.5) scale(1.060,1)" font-size="10" text-anchor="middle" stroke="#000" stroke-width="0.15">-10</text>
<rect x="304.7" y="497.2" width="6" height="7.5" fill="#000"/>
<line x1="307.7" y1="496.3" x2="307.7" y2="498.1" stroke="#000" stroke-width="1"/>
<line x1="306.2" y1="496.3" x2="309.2" y2="496.3" stroke="#000" stroke-width="1"/>
<line x1="306.2" y1="498.1" x2="309.2" y2="498.1" stroke="#000" stroke-width="1"/>
<rect x="345.6" y="492.6" width="5.6" height="12.1" fill="#000"/>
<line x1="348.4" y1="488.1" x2="348.4" y2="497.1" stroke="#000" stroke-width="1"/>
<line x1="346.9" y1="488.1" x2="349.9" y2="488.1" stroke="#000" stroke-width="1"/>
<line x1="346.9" y1="497.1" x2="349.9" y2="497.1" stroke="#000" stroke-width="1"/>
<rect x="372.6" y="489" width="6" height="15.7" fill="#000"/>
<line x1="375.6" y1="481.5" x2="375.6" y2="496.5" stroke="#000" stroke-width="1"/>
<line x1="374.1" y1="481.5" x2="377.1" y2="481.5" stroke="#000" stroke-width="1"/>
<line x1="374.1" y1="496.5" x2="377.1" y2="496.5" stroke="#000" stroke-width="1"/>
<rect x="404.8" y="470.5" width="6" height="34.2" fill="#000"/>
<line x1="407.8" y1="466.6" x2="407.8" y2="474.4" stroke="#000" stroke-width="1"/>
<line x1="406.3" y1="466.6" x2="409.3" y2="466.6" stroke="#000" stroke-width="1"/>
<line x1="406.3" y1="474.4" x2="409.3" y2="474.4" stroke="#000" stroke-width="1"/>
<rect x="412.9" y="492.6" width="6" height="12.1" fill="#000"/>
<line x1="415.9" y1="490.5" x2="415.9" y2="494.7" stroke="#000" stroke-width="1"/>
<line x1="414.4" y1="490.5" x2="417.4" y2="490.5" stroke="#000" stroke-width="1"/>
<line x1="414.4" y1="494.7" x2="417.4" y2="494.7" stroke="#000" stroke-width="1"/>
<rect x="467.6" y="467.5" width="6" height="37.2" fill="#000"/>
<line x1="470.6" y1="458.2" x2="470.6" y2="476.8" stroke="#000" stroke-width="1"/>
<line x1="469.1" y1="458.2" x2="472.1" y2="458.2" stroke="#000" stroke-width="1"/>
<line x1="469.1" y1="476.8" x2="472.1" y2="476.8" stroke="#000" stroke-width="1"/>
<rect x="478.1" y="483.6" width="6" height="21.1" fill="#000"/>
<line x1="481.1" y1="478.5" x2="481.1" y2="488.7" stroke="#000" stroke-width="1"/>
<line x1="479.6" y1="478.5" x2="482.6" y2="478.5" stroke="#000" stroke-width="1"/>
<line x1="479.6" y1="488.7" x2="482.6" y2="488.7" stroke="#000" stroke-width="1"/>
<text transform="translate(299.4,484.5)" font-size="9.7" stroke="#000" stroke-width="0.15">+55</text>
<text transform="translate(340.3,480) scale(1.009,1)" font-size="9.7" stroke="#000" stroke-width="0.15">+40</text>
<text transform="translate(373.2,478.5)" font-size="9.7" stroke="#000" stroke-width="0.15">+30</text>
<text transform="translate(387.5,469.6)" font-size="9.7" stroke="#000" stroke-width="0.15">+18</text>
<text transform="translate(413.8,483)" font-size="9.7" stroke="#000" stroke-width="0.15">+15</text>
<text transform="translate(466.7,450.1) scale(0.974,1)" font-size="9.7" stroke="#000" stroke-width="0.15">-5</text>
<text transform="translate(477.2,469.6) scale(0.939,1)" font-size="9.7" stroke="#000" stroke-width="0.16">-9</text>
<circle cx="406.6" cy="445.5" r="1.2" fill="#1e1e1e"/>
<circle cx="410.37" cy="445.5" r="1.2" fill="#1e1e1e"/>
<circle cx="414.13" cy="445.5" r="1.2" fill="#1e1e1e"/>
<circle cx="417.9" cy="445.5" r="1.2" fill="#1e1e1e"/>
<path d="M407.9 461.8 L407.9 459.7 Q407.9 458.2 409.4 458.2 L415.1 458.2 Q416.6 458.2 416.6 459.7 L416.6 461.8 M412.25 458.2 L412.25 453.8" fill="none" stroke="#222" stroke-width="1.1"/>
<text transform="translate(448.7,373.4)" font-size="9.4" stroke="#000" stroke-width="0.15">p</text>
<text transform="translate(454.8,373.1) scale(0.855,1)" font-size="7.08" stroke="#000" stroke-width="0.18">Tal1</text>
<path d="M456.4 385.8 L459.2 385.8 L459.2 494.8 L461.8 494.8 L457.8 502.5 L453.8 494.8 L456.4 494.8 Z" fill="#6e6e6e"/>
<text transform="translate(0.7,552) scale(0.930,1)" font-size="17.3" font-weight="bold" stroke="#000" stroke-width="0.16">D</text>
<line x1="64.5" y1="557.5" x2="64.5" y2="686.8" stroke="#1a1a1a" stroke-width="1.3"/>
<line x1="61.2" y1="558" x2="64.5" y2="558" stroke="#1a1a1a" stroke-width="1.2"/>
<text transform="translate(53.6,561.2) scale(1.020,1)" font-size="10.8" text-anchor="end" stroke="#000" stroke-width="0.15">1.2</text>
<line x1="61.2" y1="579.5" x2="64.5" y2="579.5" stroke="#1a1a1a" stroke-width="1.2"/>
<text transform="translate(53.6,582.7) scale(1.020,1)" font-size="10.8" text-anchor="end" stroke="#000" stroke-width="0.15">1</text>
<line x1="61.2" y1="601.2" x2="64.5" y2="601.2" stroke="#1a1a1a" stroke-width="1.2"/>
<text transform="translate(53.6,604.4) scale(1.020,1)" font-size="10.8" text-anchor="end" stroke="#000" stroke-width="0.15">0.8</text>
<line x1="61.2" y1="622.7" x2="64.5" y2="622.7" stroke="#1a1a1a" stroke-width="1.2"/>
<text transform="translate(53.6,625.9) scale(1.020,1)" font-size="10.8" text-anchor="end" stroke="#000" stroke-width="0.15">0.6</text>
<line x1="61.2" y1="644.3" x2="64.5" y2="644.3" stroke="#1a1a1a" stroke-width="1.2"/>
<text transform="translate(53.6,647.5) scale(1.020,1)" font-size="10.8" text-anchor="end" stroke="#000" stroke-width="0.15">0.4</text>
<line x1="61.2" y1="665.6" x2="64.5" y2="665.6" stroke="#1a1a1a" stroke-width="1.2"/>
<text transform="translate(53.6,668.8) scale(1.020,1)" font-size="10.8" text-anchor="end" stroke="#000" stroke-width="0.15">0.2</text>
<line x1="61.2" y1="686.8" x2="64.5" y2="686.8" stroke="#1a1a1a" stroke-width="1.2"/>
<text transform="translate(53.6,690) scale(1.020,1)" font-size="10.8" text-anchor="end" stroke="#000" stroke-width="0.15">0</text>
<line x1="61.2" y1="686.8" x2="266" y2="686.8" stroke="#1a1a1a" stroke-width="1.4"/>
<text transform="translate(13.2,621.2) rotate(-90) scale(1.021,1)" font-size="10.4" text-anchor="middle" stroke="#000" stroke-width="0.15">Normalized Relative</text>
<text transform="translate(27.4,621.2) rotate(-90) scale(1.040,1)" font-size="10.4" text-anchor="middle" stroke="#000" stroke-width="0.15">Ligation Frequency</text>
<rect x="70.1" y="661.3" width="7.1" height="25.5" fill="#000"/>
<rect x="77.2" y="665.5" width="7.2" height="21.3" fill="#9c9c9c"/>
<line x1="73.65" y1="646.8" x2="73.65" y2="675.8" stroke="#000" stroke-width="1"/>
<line x1="71.45" y1="646.8" x2="75.85" y2="646.8" stroke="#000" stroke-width="1"/>
<line x1="71.45" y1="675.8" x2="75.85" y2="675.8" stroke="#000" stroke-width="1"/>
<line x1="80.8" y1="656.5" x2="80.8" y2="674.5" stroke="#111" stroke-width="1"/>
<line x1="78.6" y1="656.5" x2="83" y2="656.5" stroke="#111" stroke-width="1"/>
<line x1="78.6" y1="674.5" x2="83" y2="674.5" stroke="#111" stroke-width="1"/>
<rect x="94.9" y="588.1" width="7.1" height="98.7" fill="#000"/>
<rect x="102" y="638.1" width="7.2" height="48.7" fill="#9c9c9c"/>
<line x1="98.45" y1="569.4" x2="98.45" y2="606.8" stroke="#000" stroke-width="1"/>
<line x1="96.25" y1="569.4" x2="100.65" y2="569.4" stroke="#000" stroke-width="1"/>
<line x1="96.25" y1="606.8" x2="100.65" y2="606.8" stroke="#000" stroke-width="1"/>
<line x1="105.6" y1="630.4" x2="105.6" y2="645.8" stroke="#111" stroke-width="1"/>
<line x1="103.4" y1="630.4" x2="107.8" y2="630.4" stroke="#111" stroke-width="1"/>
<line x1="103.4" y1="645.8" x2="107.8" y2="645.8" stroke="#111" stroke-width="1"/>
<rect x="120.4" y="632.9" width="7.1" height="53.9" fill="#000"/>
<rect x="127.5" y="642.9" width="7.2" height="43.9" fill="#9c9c9c"/>
<line x1="123.95" y1="623.8" x2="123.95" y2="642" stroke="#000" stroke-width="1"/>
<line x1="121.75" y1="623.8" x2="126.15" y2="623.8" stroke="#000" stroke-width="1"/>
<line x1="121.75" y1="642" x2="126.15" y2="642" stroke="#000" stroke-width="1"/>
<line x1="131.1" y1="635.4" x2="131.1" y2="650.4" stroke="#111" stroke-width="1"/>
<line x1="128.9" y1="635.4" x2="133.3" y2="635.4" stroke="#111" stroke-width="1"/>
<line x1="128.9" y1="650.4" x2="133.3" y2="650.4" stroke="#111" stroke-width="1"/>
<rect x="145.5" y="596" width="7.1" height="90.8" fill="#000"/>
<rect x="152.6" y="630.2" width="7.2" height="56.6" fill="#9c9c9c"/>
<line x1="149.05" y1="586.2" x2="149.05" y2="605.8" stroke="#000" stroke-width="1"/>
<line x1="146.85" y1="586.2" x2="151.25" y2="586.2" stroke="#000" stroke-width="1"/>
<line x1="146.85" y1="605.8" x2="151.25" y2="605.8" stroke="#000" stroke-width="1"/>
<line x1="156.2" y1="619.6" x2="156.2" y2="640.8" stroke="#111" stroke-width="1"/>
<line x1="154" y1="619.6" x2="158.4" y2="619.6" stroke="#111" stroke-width="1"/>
<line x1="154" y1="640.8" x2="158.4" y2="640.8" stroke="#111" stroke-width="1"/>
<rect x="170.7" y="652.1" width="7.1" height="34.7" fill="#000"/>
<rect x="177.8" y="668" width="7.2" height="18.8" fill="#9c9c9c"/>
<line x1="174.25" y1="644.9" x2="174.25" y2="659.3" stroke="#000" stroke-width="1"/>
<line x1="172.05" y1="644.9" x2="176.45" y2="644.9" stroke="#000" stroke-width="1"/>
<line x1="172.05" y1="659.3" x2="176.45" y2="659.3" stroke="#000" stroke-width="1"/>
<line x1="181.4" y1="664.4" x2="181.4" y2="671.6" stroke="#111" stroke-width="1"/>
<line x1="179.2" y1="664.4" x2="183.6" y2="664.4" stroke="#111" stroke-width="1"/>
<line x1="179.2" y1="671.6" x2="183.6" y2="671.6" stroke="#111" stroke-width="1"/>
<rect x="221.1" y="648.3" width="7.1" height="38.5" fill="#000"/>
<rect x="228.2" y="664.4" width="7.2" height="22.4" fill="#9c9c9c"/>
<line x1="224.65" y1="640.7" x2="224.65" y2="655.9" stroke="#000" stroke-width="1"/>
<line x1="222.45" y1="640.7" x2="226.85" y2="640.7" stroke="#000" stroke-width="1"/>
<line x1="222.45" y1="655.9" x2="226.85" y2="655.9" stroke="#000" stroke-width="1"/>
<line x1="231.8" y1="658.4" x2="231.8" y2="670.4" stroke="#111" stroke-width="1"/>
<line x1="229.6" y1="658.4" x2="234" y2="658.4" stroke="#111" stroke-width="1"/>
<line x1="229.6" y1="670.4" x2="234" y2="670.4" stroke="#111" stroke-width="1"/>
<rect x="246.3" y="630" width="7.1" height="56.8" fill="#000"/>
<rect x="253.4" y="671.3" width="7.2" height="15.5" fill="#9c9c9c"/>
<line x1="249.85" y1="614.6" x2="249.85" y2="645.4" stroke="#000" stroke-width="1"/>
<line x1="247.65" y1="614.6" x2="252.05" y2="614.6" stroke="#000" stroke-width="1"/>
<line x1="247.65" y1="645.4" x2="252.05" y2="645.4" stroke="#000" stroke-width="1"/>
<line x1="257" y1="667.8" x2="257" y2="674.8" stroke="#111" stroke-width="1"/>
<line x1="254.8" y1="667.8" x2="259.2" y2="667.8" stroke="#111" stroke-width="1"/>
<line x1="254.8" y1="674.8" x2="259.2" y2="674.8" stroke="#111" stroke-width="1"/>
<circle cx="95.7" cy="560" r="1.2" fill="#1e1e1e"/>
<circle cx="99.15" cy="560" r="1.2" fill="#1e1e1e"/>
<circle cx="102.6" cy="560" r="1.2" fill="#1e1e1e"/>
<circle cx="149" cy="576" r="1.2" fill="#1e1e1e"/>
<circle cx="174" cy="635.3" r="1.2" fill="#1e1e1e"/>
<circle cx="224.8" cy="630.4" r="1.2" fill="#1e1e1e"/>
<circle cx="244.5" cy="605.6" r="1.2" fill="#1e1e1e"/>
<circle cx="248.1" cy="605.6" r="1.2" fill="#1e1e1e"/>
<circle cx="251.7" cy="605.6" r="1.2" fill="#1e1e1e"/>
<circle cx="255.3" cy="605.6" r="1.2" fill="#1e1e1e"/>
<rect x="200.4" y="558" width="6.6" height="6.4" fill="#000"/>
<text transform="translate(209.5,564.6) scale(0.990,1)" font-size="10.6" stroke="#000" stroke-width="0.15">K562</text>
<rect x="200.4" y="573" width="6.6" height="6" fill="#9c9c9c"/>
<text transform="translate(209.7,579.2) scale(0.905,1)" font-size="10.6" stroke="#000" stroke-width="0.17">HPB-ALL</text>
<text transform="translate(192.6,607)" font-size="9.4" stroke="#000" stroke-width="0.15">p</text>
<text transform="translate(198.4,606.4) scale(0.955,1)" font-size="6.24" stroke="#000" stroke-width="0.16">TAL1</text>
<path d="M201.35 617.3 L204.45 617.3 L204.45 677.8 L207.2 677.8 L202.9 686.4 L198.6 677.8 L201.35 677.8 Z" fill="#6e6e6e"/>
<text transform="translate(68.2,700.2) scale(1.023,1)" font-size="8.7" stroke="#000" stroke-width="0.15">+64</text>
<text transform="translate(93.4,700.2) scale(0.962,1)" font-size="8.7" font-weight="bold" stroke="#000" stroke-width="0.16">+51</text>
<text transform="translate(118,700.2) scale(1.023,1)" font-size="8.7" stroke="#000" stroke-width="0.15">+46</text>
<text transform="translate(144,700.2) scale(1.016,1)" font-size="8.7" font-weight="bold" stroke="#000" stroke-width="0.15">+19</text>
<text transform="translate(168.3,700.2) scale(1.057,1)" font-size="8.7" stroke="#000" stroke-width="0.15">+15</text>
<text transform="translate(224,700.2) scale(0.918,1)" font-size="8.7" stroke="#000" stroke-width="0.16">-8</text>
<text transform="translate(245.6,700.2) scale(1.026,1)" font-size="8.7" font-weight="bold" stroke="#000" stroke-width="0.15">-10</text>
<line x1="294.8" y1="558.3" x2="294.8" y2="686.8" stroke="#1a1a1a" stroke-width="1.3"/>
<line x1="291.5" y1="558.3" x2="294.8" y2="558.3" stroke="#1a1a1a" stroke-width="1.2"/>
<text transform="translate(283,561.5) scale(1.020,1)" font-size="10.8" text-anchor="end" stroke="#000" stroke-width="0.15">2</text>
<line x1="291.5" y1="583.9" x2="294.8" y2="583.9" stroke="#1a1a1a" stroke-width="1.2"/>
<text transform="translate(283,587.1) scale(1.020,1)" font-size="10.8" text-anchor="end" stroke="#000" stroke-width="0.15">1.6</text>
<line x1="291.5" y1="609.9" x2="294.8" y2="609.9" stroke="#1a1a1a" stroke-width="1.2"/>
<text transform="translate(283,613.1) scale(1.020,1)" font-size="10.8" text-anchor="end" stroke="#000" stroke-width="0.15">1.2</text>
<line x1="291.5" y1="635.4" x2="294.8" y2="635.4" stroke="#1a1a1a" stroke-width="1.2"/>
<text transform="translate(283,638.6) scale(1.020,1)" font-size="10.8" text-anchor="end" stroke="#000" stroke-width="0.15">0.8</text>
<line x1="291.5" y1="661.1" x2="294.8" y2="661.1" stroke="#1a1a1a" stroke-width="1.2"/>
<text transform="translate(283,664.3) scale(1.020,1)" font-size="10.8" text-anchor="end" stroke="#000" stroke-width="0.15">0.4</text>
<line x1="291.5" y1="686.8" x2="294.8" y2="686.8" stroke="#1a1a1a" stroke-width="1.2"/>
<text transform="translate(283,690) scale(1.020,1)" font-size="10.8" text-anchor="end" stroke="#000" stroke-width="0.15">0</text>
<line x1="291.5" y1="686.8" x2="494.6" y2="686.8" stroke="#1a1a1a" stroke-width="1.4"/>
<rect x="299.9" y="676.3" width="7.1" height="10.5" fill="#000"/>
<rect x="307" y="678.9" width="7.2" height="7.9" fill="#9c9c9c"/>
<line x1="303.45" y1="672.5" x2="303.45" y2="680.1" stroke="#000" stroke-width="1"/>
<line x1="301.25" y1="672.5" x2="305.65" y2="672.5" stroke="#000" stroke-width="1"/>
<line x1="301.25" y1="680.1" x2="305.65" y2="680.1" stroke="#000" stroke-width="1"/>
<line x1="310.6" y1="676.8" x2="310.6" y2="681" stroke="#111" stroke-width="1"/>
<line x1="308.4" y1="676.8" x2="312.8" y2="676.8" stroke="#111" stroke-width="1"/>
<line x1="308.4" y1="681" x2="312.8" y2="681" stroke="#111" stroke-width="1"/>
<rect x="324.8" y="574.8" width="7.1" height="112" fill="#000"/>
<rect x="331.9" y="671.8" width="7.2" height="15" fill="#9c9c9c"/>
<line x1="328.35" y1="560.3" x2="328.35" y2="589.3" stroke="#000" stroke-width="1"/>
<line x1="326.15" y1="560.3" x2="330.55" y2="560.3" stroke="#000" stroke-width="1"/>
<line x1="326.15" y1="589.3" x2="330.55" y2="589.3" stroke="#000" stroke-width="1"/>
<line x1="335.5" y1="665.4" x2="335.5" y2="678.2" stroke="#111" stroke-width="1"/>
<line x1="333.3" y1="665.4" x2="337.7" y2="665.4" stroke="#111" stroke-width="1"/>
<line x1="333.3" y1="678.2" x2="337.7" y2="678.2" stroke="#111" stroke-width="1"/>
<rect x="349.6" y="648.8" width="7.1" height="38" fill="#000"/>
<rect x="356.7" y="666.1" width="7.2" height="20.7" fill="#9c9c9c"/>
<line x1="353.15" y1="645.5" x2="353.15" y2="652.1" stroke="#000" stroke-width="1"/>
<line x1="350.95" y1="645.5" x2="355.35" y2="645.5" stroke="#000" stroke-width="1"/>
<line x1="350.95" y1="652.1" x2="355.35" y2="652.1" stroke="#000" stroke-width="1"/>
<line x1="360.3" y1="656" x2="360.3" y2="676.2" stroke="#111" stroke-width="1"/>
<line x1="358.1" y1="656" x2="362.5" y2="656" stroke="#111" stroke-width="1"/>
<line x1="358.1" y1="676.2" x2="362.5" y2="676.2" stroke="#111" stroke-width="1"/>
<rect x="375" y="593.8" width="7.1" height="93" fill="#000"/>
<rect x="382.1" y="639.6" width="7.2" height="47.2" fill="#9c9c9c"/>
<line x1="378.55" y1="583.2" x2="378.55" y2="604.4" stroke="#000" stroke-width="1"/>
<line x1="376.35" y1="583.2" x2="380.75" y2="583.2" stroke="#000" stroke-width="1"/>
<line x1="376.35" y1="604.4" x2="380.75" y2="604.4" stroke="#000" stroke-width="1"/>
<line x1="385.7" y1="634.3" x2="385.7" y2="644.9" stroke="#111" stroke-width="1"/>
<line x1="383.5" y1="634.3" x2="387.9" y2="634.3" stroke="#111" stroke-width="1"/>
<line x1="383.5" y1="644.9" x2="387.9" y2="644.9" stroke="#111" stroke-width="1"/>
<rect x="400.3" y="652.6" width="7.1" height="34.2" fill="#000"/>
<rect x="407.4" y="671.3" width="7.2" height="15.5" fill="#9c9c9c"/>
<line x1="403.85" y1="647.7" x2="403.85" y2="657.5" stroke="#000" stroke-width="1"/>
<line x1="401.65" y1="647.7" x2="406.05" y2="647.7" stroke="#000" stroke-width="1"/>
<line x1="401.65" y1="657.5" x2="406.05" y2="657.5" stroke="#000" stroke-width="1"/>
<line x1="411" y1="668.4" x2="411" y2="674.2" stroke="#111" stroke-width="1"/>
<line x1="408.8" y1="668.4" x2="413.2" y2="668.4" stroke="#111" stroke-width="1"/>
<line x1="408.8" y1="674.2" x2="413.2" y2="674.2" stroke="#111" stroke-width="1"/>
<rect x="450.2" y="605.6" width="7.1" height="81.2" fill="#000"/>
<rect x="457.3" y="635.3" width="7.2" height="51.5" fill="#9c9c9c"/>
<line x1="453.75" y1="593.5" x2="453.75" y2="617.7" stroke="#000" stroke-width="1"/>
<line x1="451.55" y1="593.5" x2="455.95" y2="593.5" stroke="#000" stroke-width="1"/>
<line x1="451.55" y1="617.7" x2="455.95" y2="617.7" stroke="#000" stroke-width="1"/>
<line x1="460.9" y1="621.7" x2="460.9" y2="648.9" stroke="#111" stroke-width="1"/>
<line x1="458.7" y1="621.7" x2="463.1" y2="621.7" stroke="#111" stroke-width="1"/>
<line x1="458.7" y1="648.9" x2="463.1" y2="648.9" stroke="#111" stroke-width="1"/>
<rect x="475.3" y="630.4" width="7.1" height="56.4" fill="#000"/>
<rect x="482.4" y="658.4" width="7.2" height="28.4" fill="#9c9c9c"/>
<line x1="478.85" y1="627.5" x2="478.85" y2="633.3" stroke="#000" stroke-width="1"/>
<line x1="476.65" y1="627.5" x2="481.05" y2="627.5" stroke="#000" stroke-width="1"/>
<line x1="476.65" y1="633.3" x2="481.05" y2="633.3" stroke="#000" stroke-width="1"/>
<line x1="486" y1="651.1" x2="486" y2="665.7" stroke="#111" stroke-width="1"/>
<line x1="483.8" y1="651.1" x2="488.2" y2="651.1" stroke="#111" stroke-width="1"/>
<line x1="483.8" y1="665.7" x2="488.2" y2="665.7" stroke="#111" stroke-width="1"/>
<circle cx="322.5" cy="550.4" r="1.2" fill="#1e1e1e"/>
<circle cx="326.33" cy="550.4" r="1.2" fill="#1e1e1e"/>
<circle cx="330.17" cy="550.4" r="1.2" fill="#1e1e1e"/>
<circle cx="334" cy="550.4" r="1.2" fill="#1e1e1e"/>
<circle cx="354" cy="635.3" r="1.2" fill="#1e1e1e"/>
<circle cx="377" cy="573.3" r="1.2" fill="#1e1e1e"/>
<circle cx="380.6" cy="573.3" r="1.2" fill="#1e1e1e"/>
<circle cx="401.8" cy="638.2" r="1.2" fill="#1e1e1e"/>
<circle cx="405.6" cy="638.2" r="1.2" fill="#1e1e1e"/>
<circle cx="453.6" cy="584.3" r="1.2" fill="#1e1e1e"/>
<circle cx="477.4" cy="617.7" r="1.2" fill="#1e1e1e"/>
<circle cx="481.2" cy="617.7" r="1.2" fill="#1e1e1e"/>
<rect x="421.8" y="558.2" width="6.7" height="6.2" fill="#000"/>
<text transform="translate(432,564.4)" font-size="10.6" stroke="#000" stroke-width="0.15">Erythroid</text>
<rect x="421.8" y="573.1" width="6.7" height="6" fill="#9c9c9c"/>
<text transform="translate(432,578.9)" font-size="10.6" stroke="#000" stroke-width="0.15">Lymphoid</text>
<text transform="translate(421.7,607)" font-size="9.4" stroke="#000" stroke-width="0.15">p</text>
<text transform="translate(427.4,606) scale(0.939,1)" font-size="7.08" stroke="#000" stroke-width="0.16">Tal1</text>
<path d="M429.85 617.4 L432.95 617.4 L432.95 677.8 L435.7 677.8 L431.4 686.4 L427.1 677.8 L429.85 677.8 Z" fill="#6e6e6e"/>
<text transform="translate(299.1,700.2) scale(1.037,1)" font-size="8.7" stroke="#000" stroke-width="0.15">+55</text>
<text transform="translate(323.8,700.2) scale(1.044,1)" font-size="8.7" font-weight="bold" stroke="#000" stroke-width="0.15">+40</text>
<text transform="translate(349,700.2) scale(1.016,1)" font-size="8.7" stroke="#000" stroke-width="0.15">+30</text>
<text transform="translate(373.5,700.2) scale(1.091,1)" font-size="8.7" font-weight="bold" stroke="#000" stroke-width="0.15">+18</text>
<text transform="translate(398.8,700.2) scale(1.077,1)" font-size="8.7" stroke="#000" stroke-width="0.15">+15</text>
<text transform="translate(452.2,700.2) scale(1.228,1)" font-size="8.7" stroke="#000" stroke-width="0.15">-5</text>
<text transform="translate(477.3,700.2) scale(1.228,1)" font-size="8.7" font-weight="bold" stroke="#000" stroke-width="0.15">-9</text>
</svg>
</body></html>
